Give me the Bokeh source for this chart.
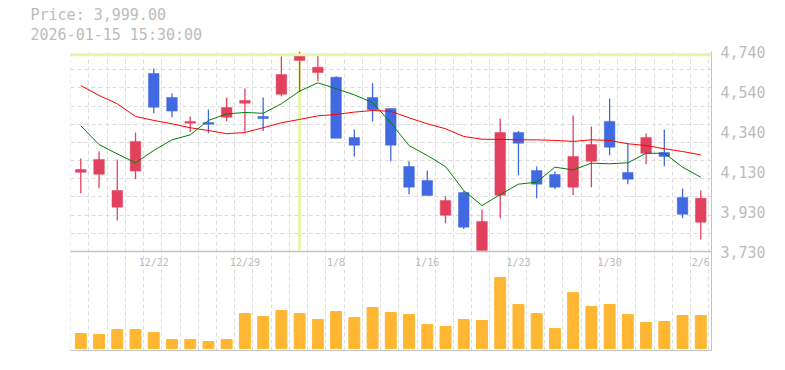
import numpy as np
from bokeh.plotting import figure
from bokeh.models import (Range1d, FixedTicker, Span, Title, ColumnDataSource)
from bokeh.core.properties import value
from bokeh.embed import file_html
from bokeh.resources import INLINE

# ---------------- data ----------------
dates = ["12/16", "12/17", "12/18", "12/19", "12/22", "12/23", "12/24", "12/25",
         "12/26", "12/29", "12/30", "1/5", "1/6", "1/7", "1/8", "1/9", "1/13",
         "1/14", "1/15", "1/16", "1/19", "1/20", "1/21", "1/22", "1/23", "1/26",
         "1/27", "1/28", "1/29", "1/30", "2/2", "2/3", "2/4", "2/5", "2/6"]

opens = [4130, 4120, 3954, 4136, 4629, 4508, 4378, 4382, 4408, 4479, 4412, 4524,
         4695, 4634, 4610, 4306, 4508, 4452, 4159, 4089, 3913, 4028, 3735, 4014,
         4331, 4139, 4119, 4055, 4186, 4387, 4129, 4226, 4230, 4003, 3878]
highs = [4200, 4235, 4195, 4331, 4654, 4528, 4412, 4447, 4508, 4553, 4508, 4715,
         4740, 4725, 4615, 4346, 4580, 4452, 4186, 4139, 4009, 4035, 3942, 4402,
         4338, 4159, 4134, 4417, 4361, 4503, 4277, 4326, 4346, 4048, 4038]
lows = [4024, 4050, 3887, 4095, 4428, 4408, 4333, 4327, 4388, 4336, 4338, 4514,
        4537, 4590, 4302, 4210, 4387, 4186, 4019, 4013, 3873, 3843, 3731, 3898,
        4115, 3999, 4045, 4014, 4055, 4216, 4070, 4171, 4161, 3898, 3791]
closes = [4144, 4195, 4038, 4286, 4459, 4439, 4387, 4373, 4457, 4493, 4402, 4624,
          4725, 4661, 4302, 4267, 4446, 4267, 4055, 4013, 3988, 3853, 3882, 4331,
          4277, 4070, 4055, 4210, 4270, 4257, 4095, 4306, 4210, 3918, 3999]

ma_short = [4365, 4270, 4223, 4178, 4240, 4294, 4319, 4392, 4425, 4432, 4428, 4476,
            4540, 4582, 4552, 4521, 4482, 4380, 4265, 4215, 4159, 4038, 3962, 4018,
            4070, 4080, 4156, 4142, 4176, 4173, 4178, 4226, 4226, 4156, 4105]
ma_long = [4568, 4518, 4476, 4412, 4392, 4375, 4355, 4341, 4325, 4331, 4355, 4380,
           4397, 4415, 4422, 4434, 4442, 4438, 4405, 4375, 4350, 4311, 4297, 4296,
           4294, 4294, 4291, 4286, 4294, 4291, 4274, 4265, 4249, 4235, 4218]

volumes = [150000, 140000, 190000, 190000, 160000, 90000, 90000, 70000, 90000,
           350000, 320000, 380000, 350000, 290000, 370000, 310000, 410000, 360000,
           340000, 240000, 220000, 290000, 280000, 710000, 440000, 350000, 200000,
           560000, 420000, 440000, 340000, 260000, 270000, 330000, 330000]

x_tick_labels = ["12/22", "12/29", "1/8", "1/16", "1/23", "1/30", "2/6"]
y_tick_labels = ["3,730", "3,930", "4,130", "4,340", "4,540", "4,740"]
price_min, price_max = 3730, 4740

title_price = "Price: 3,999.00"
title_time = "2026-01-15 15:30:00"
cross_date = "1/6"
cross_price = 4723

# ---------------- styling ----------------
UP = "#e2415e"
DOWN = "#4169e1"
VOL = "#ffb733"
TXT = "#bbbbbb"
GRID = "#dcdcdc"
BORDER = "#c4c4c4"
CROSS = "#e6f5aa"
FONT = "DejaVu Sans Mono"

idx = list(range(len(dates)))
colors = [UP if c > o else DOWN for o, c in zip(opens, closes)]
src = ColumnDataSource(dict(
    x=idx, open=opens, high=highs, low=lows, close=closes,
    top=[max(o, c) for o, c in zip(opens, closes)],
    bottom=[min(o, c) for o, c in zip(opens, closes)],
    color=colors, vol=volumes, ma_s=ma_short, ma_l=ma_long))

# layout: price panel 200px, volume panel 99px
price_px, vol_px = 200, 99
ppx = (price_max - price_min) / price_px
y_lo = price_min - vol_px * ppx
step_px = 18.235
x0 = -0.565
x1 = x0 + 641 / step_px

p = figure(frame_width=641, frame_height=price_px + vol_px,
           x_range=Range1d(x0, x1), y_range=Range1d(y_lo, price_max),
           y_axis_location="right", toolbar_location=None, tools="",
           output_backend="svg", min_border_left=70, min_border_top=51,
           min_border_right=62, min_border_bottom=6)
p.outline_line_color = None
p.background_fill_color = "white"
p.border_fill_color = "white"

vmax_px = 2  # volume baseline 2px above bottom
vpp = 10000
p.extra_y_ranges = {"vol": Range1d(-vmax_px * vpp, (price_px + vol_px - vmax_px) * vpp)}

# grids
p.xgrid.ticker = FixedTicker(ticks=[x0 + 0.005 + m for m in range(36)])
p.ygrid.ticker = FixedTicker(ticks=list(np.linspace(price_min, price_max, 12)))
for g in (p.xgrid, p.ygrid):
    g.grid_line_color = GRID
    g.grid_line_dash = "4 3"
    g.grid_line_width = 1

# right price axis
yticks = [int(round(v)) for v in np.linspace(price_min, price_max, len(y_tick_labels))]
p.yaxis.ticker = FixedTicker(ticks=yticks)
p.yaxis.major_label_overrides = {t: l for t, l in zip(yticks, y_tick_labels)}
p.yaxis.axis_line_color = BORDER
p.yaxis.major_tick_line_color = None
p.yaxis.minor_tick_line_color = None
p.yaxis.major_tick_out = 0
p.yaxis.major_tick_in = 0
p.yaxis.minor_tick_out = 0
p.yaxis.minor_tick_in = 0
p.yaxis.major_label_standoff = 9
p.yaxis.major_label_text_font = FONT
p.yaxis.major_label_text_font_size = "15px"
p.yaxis.major_label_text_color = TXT

# bottom axis: border line only
p.xaxis.axis_line_color = BORDER
p.xaxis.major_tick_line_color = None
p.xaxis.minor_tick_line_color = None
p.xaxis.major_tick_out = 0
p.xaxis.major_tick_in = 0
p.xaxis.major_label_text_font_size = "0px"
p.xaxis.major_label_standoff = 0
p.xaxis.ticker = FixedTicker(ticks=[])

# crosshair
ci = dates.index(cross_date)
p.segment(x0=[ci], y0=[price_min + 5], x1=[ci], y1=[price_max],
          line_color=CROSS, line_width=3)
p.add_layout(Span(location=cross_price, dimension="width", line_color=CROSS,
                  line_width=3))

# volume bars
p.vbar(x="x", top="vol", bottom=0, width=0.6, color=VOL, source=src,
       y_range_name="vol")

# divider between panels
p.add_layout(Span(location=price_min, dimension="width", line_color=BORDER,
                  line_width=1.5))

# candles
p.segment(x0="x", y0="low", x1="x", y1="high", line_color="color",
          line_width=1.3, source=src)
p.vbar(x="x", top="top", bottom="bottom", width=0.58, fill_color="color",
       line_color="color", line_width=0.5, source=src)

# moving averages
p.line("x", "ma_l", source=src, line_color="#ff0000", line_width=1)
p.line("x", "ma_s", source=src, line_color="#008000", line_width=1)

# date labels inside top of volume panel
lx = [dates.index(d) for d in x_tick_labels]
p.text(x=lx, y=[price_min] * len(lx), text=x_tick_labels, y_offset=11,
       text_align="center", text_baseline="middle", text_color=TXT,
       text_font=value(FONT), text_font_size="10px")

# header texts as two stacked titles
p.title = None
for txt, so in ((title_time, 15), (title_price, -14)):
    p.add_layout(Title(text=txt, align="left", offset=-40, standoff=so,
                       text_font=FONT, text_font_size="15px",
                       text_font_style="normal", text_color=TXT), "above")

open("out.html", "w").write(file_html(p, INLINE))
